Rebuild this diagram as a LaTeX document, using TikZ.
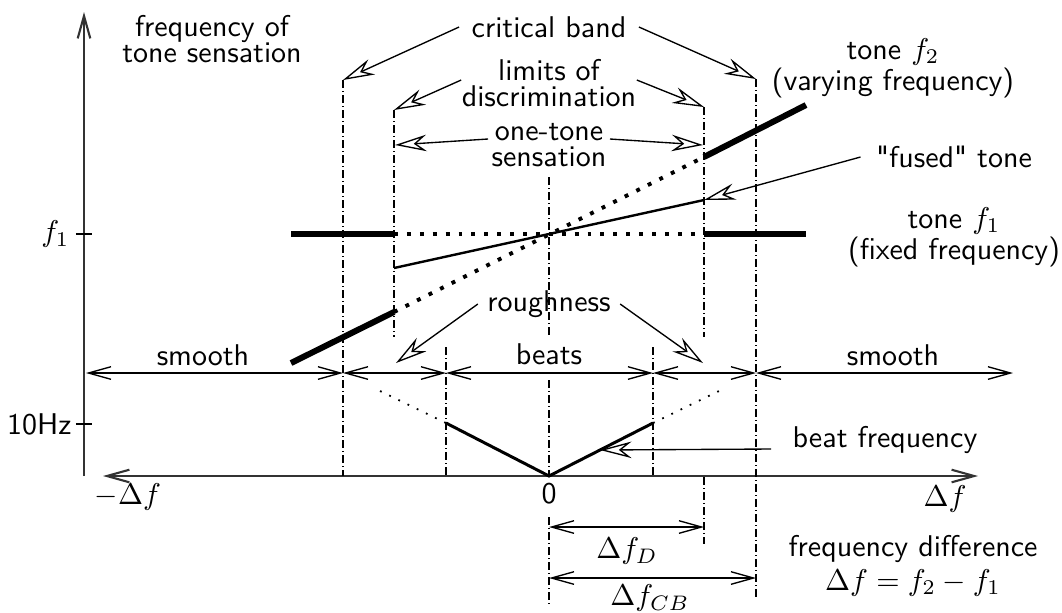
\documentclass[tikz,border=0pt]{standalone}
\usepackage{amsmath}
\usepackage{tikz}
\usetikzlibrary{arrows.meta,positioning}

\begin{document}
\begin{tikzpicture}[
    x=0.3333pt, y=-0.3333pt,
    lbl/.style={font=\sffamily\fontsize{10}{8.7}\selectfont, align=center, inner sep=1pt},
    guide/.style={line width=0.45pt, dash pattern=on 2.7pt off 1pt on 0.3pt off 1pt},
    dimline/.style={{Straight Barb[length=7.5pt,width=4.2pt]}-{Straight Barb[length=7.5pt,width=4.2pt]}, line width=0.45pt},
    pointer/.style={-{Stealth[open,length=10.5pt,width=5.5pt,inset=3.5pt]}, line width=0.45pt},
    axisline/.style={line width=0.7pt, draw=black!80},
    toneline/.style={line width=2pt},
    tonedots/.style={line width=1.3pt, dash pattern=on 1.3pt off 3pt},
    beatline/.style={line width=1pt},
    beatdots/.style={line width=0.6pt, dash pattern=on 0.6pt off 2.8pt}
]
\useasboundingbox (0,0) rectangle (1062,612);

% axes
\coordinate (origin) at (84,476);
\coordinate (ytop) at (84,12);
\coordinate (xleft) at (103,476);
\coordinate (xright) at (978,476);
\coordinate (zero) at (549,476);
\coordinate (yfone) at (84,234);
\coordinate (ytenhz) at (84,424);
\draw[axisline, -{Straight Barb[length=7.5pt,width=4.2pt]}] (origin) -- (ytop);
\draw[axisline, {Straight Barb[length=7.5pt,width=4.2pt]}-{Straight Barb[length=7.5pt,width=4.2pt]}] (xleft) -- (xright);
\draw[line width=0.45pt] ([xshift=-2.7pt]yfone) -- ([xshift=2.7pt]yfone);
\draw[line width=0.45pt] ([xshift=-2.7pt]ytenhz) -- ([xshift=2.7pt]ytenhz);

\node (fone) [lbl, anchor=east] at (73,234) {$f_1$};
\node (tenhz) [lbl, anchor=east] at (75,424) {10Hz};
\node (minusdf) [lbl] at (128,497) {$-\Delta f$};
\node (zerolbl) [lbl] at (549,494) {0};
\node (plusdf) [lbl] at (945,499) {$\Delta f$};
\node (ytitle) [lbl] at (212,39) {frequency of\\tone sensation};

% guide lines
\coordinate (cbLtop) at (343,80);
\coordinate (cbLbot) at (343,476);
\coordinate (cbRtop) at (756,79);
\coordinate (cbRbot) at (756,600);
\coordinate (dLtop) at (394,110);
\coordinate (dLbot) at (394,337);
\coordinate (dRtop) at (704,107);
\coordinate (dRbot) at (704,337);
\coordinate (dRlow) at (704,477);
\coordinate (dRend) at (704,544);
\coordinate (bLtop) at (446,347);
\coordinate (bLbot) at (446,476);
\coordinate (bRtop) at (653,347);
\coordinate (bRbot) at (653,476);
\coordinate (cTop) at (549,177);
\coordinate (cMid) at (549,337);
\coordinate (cBeat) at (549,380);
\coordinate (cLow) at (549,517);
\coordinate (cEnd) at (549,605);
\draw[guide] (cbLtop) -- (cbLbot);
\draw[guide] (cbRtop) -- (cbRbot);
\draw[guide] (dLtop) -- (dLbot);
\draw[guide] (dRtop) -- (dRbot);
\draw[guide] (dRlow) -- (dRend);
\draw[guide] (bLtop) -- (bLbot);
\draw[guide] (bRtop) -- (bRbot);
\draw[guide] (cTop) -- (cMid);
\draw[guide] (cBeat) -- (zero);
\draw[guide] (cLow) -- (cEnd);

% tones
\coordinate (fa) at (291,234);
\coordinate (fb) at (394,234);
\coordinate (fc) at (704,234);
\coordinate (fd) at (806,234);
\coordinate (ga) at (291,363);
\coordinate (gb) at (394,312);
\coordinate (gc) at (704,157);
\coordinate (gd) at (806,105);
\coordinate (ua) at (394,268);
\coordinate (ub) at (704,200);
\draw[toneline] (fa) -- (fb);
\draw[tonedots] (fb) -- (fc);
\draw[toneline] (fc) -- (fd);
\draw[toneline] (ga) -- (gb);
\draw[tonedots] (gb) -- (gc);
\draw[toneline] (gc) -- (gd);
\draw[line width=0.8pt] (ua) -- (ub);

% beat frequency
\coordinate (va) at (380,391);
\coordinate (vb) at (446,423);
\coordinate (vc) at (719,391);
\coordinate (vd) at (653,423);
\coordinate (vhit) at (600,450);
\draw[beatdots] (va) -- (vb);
\draw[beatline] (vb) -- (zero) -- (vd);
\draw[beatdots] (vd) -- (vc);

% sensation ranges
\coordinate (r0) at (86,373);
\coordinate (r1) at (343,373);
\coordinate (r2) at (446,373);
\coordinate (r3) at (653,373);
\coordinate (r4) at (756,373);
\coordinate (r5) at (1013,373);
\draw[dimline] (r0) -- (r1);
\draw[dimline] (r1) -- (r2);
\draw[dimline] (r2) -- (r3);
\draw[dimline] (r3) -- (r4);
\draw[dimline] (r4) -- (r5);
\node (smoothL) [lbl] at (203,355) {smooth};
\node (beats) [lbl] at (549,354) {beats};
\node (smoothR) [lbl] at (893,355) {smooth};

% labels with pointers
\node (crit) [lbl] at (549,27) {critical band};
\node (discr) [lbl] at (549,83) {limits of\\discrimination};
\node (onetone) [lbl] at (549,145) {one-tone\\sensation};
\node (rough) [lbl] at (549,304) {roughness};
\node (ftwo) [lbl] at (893,68) {tone $f_2$\\(varying frequency)};
\node (fused) [lbl] at (954,157) {\textquotedbl fused\textquotedbl{} tone};
\node (ftone) [lbl] at (954,237) {tone $f_1$\\(fixed frequency)};
\node (beatf) [lbl] at (885,440) {beat frequency};
\coordinate (rLtip) at (396,363);
\coordinate (rRtip) at (703,363);
\coordinate (oLtip) at (395,145);
\coordinate (oRtip) at (703,145);
\draw[pointer] ([xshift=-3pt]crit.west) -- (cbLtop);
\draw[pointer] ([xshift=3pt]crit.east) -- (cbRtop);
\draw[pointer] ([xshift=1pt,yshift=1pt]discr.west) -- (dLtop);
\draw[pointer] ([xshift=-1pt,yshift=1pt]discr.east) -- (dRtop);
\draw[pointer] ([yshift=2pt]onetone.west) -- (oLtip);
\draw[pointer] ([yshift=2pt]onetone.east) -- (oRtip);
\draw[pointer] ([xshift=-2pt]rough.west) -- (rLtip);
\draw[pointer] ([xshift=2pt]rough.east) -- (rRtip);
\draw[pointer] ([xshift=-4pt]fused.west) -- (ub);
\draw[pointer] ([xshift=-6pt,yshift=-3pt]beatf.west) -- (vhit);

% differences
\coordinate (dfa) at (549,527);
\coordinate (dfb) at (704,527);
\coordinate (cba) at (549,578);
\coordinate (cbb) at (756,578);
\draw[dimline] (dfa) -- (dfb);
\draw[dimline] (cba) -- (cbb);
\node (dfd) [lbl] at (627,551) {$\Delta f_D$};
\node (dfcb) [lbl] at (650,598) {$\Delta f_{CB}$};
\node (fdiff) [lbl] at (913,566) {frequency difference\\[1.2pt]$\Delta f = f_2 - f_1$};
\end{tikzpicture}
\end{document}
